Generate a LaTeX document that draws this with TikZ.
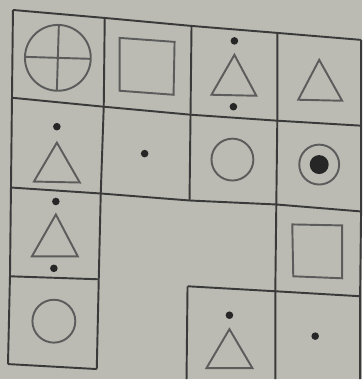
\documentclass[tikz,border=0pt]{standalone}
\usepackage{tikz}
\usepackage{xcolor}
\definecolor{PaperGray}{HTML}{BBBBB4}
\definecolor{GridInk}{HTML}{3A3A3A}
\definecolor{ShapeInk}{HTML}{5C5C5C}

\begin{document}
\begin{tikzpicture}[x=0.02cm, y=-0.02cm,
  gridline/.style={draw=GridInk,line width=1.1pt},
  figline/.style={draw=ShapeInk,line width=1.1pt},
  blob/.style={fill=black!85}]
\fill[PaperGray] (0,0) rectangle (363,380);
\coordinate (a0) at (13,10);  \coordinate (a1) at (105,18); \coordinate (a2) at (192,26);
\coordinate (a3) at (278,33); \coordinate (a4) at (362,40);
\coordinate (b0) at (12,98);  \coordinate (b1) at (104,107); \coordinate (b2) at (191,115);
\coordinate (b3) at (278,121); \coordinate (b4) at (362,126);
\coordinate (c0) at (11,188); \coordinate (c1) at (101,194); \coordinate (c2) at (190,201);
\coordinate (c3) at (277,205); \coordinate (c4) at (362,212);
\coordinate (d0) at (10,277); \coordinate (d1) at (99,280);
\coordinate (e0) at (8,365);  \coordinate (e1) at (97,370);
\coordinate (g2) at (188,287); \coordinate (f3) at (276,292); \coordinate (f4) at (361,297);
\coordinate (h2) at (187,380); \coordinate (h3) at (276,380); \coordinate (h4) at (361,380);
% grid
\draw[gridline] (a0) -- (a1) -- (a2) -- (a3) -- (a4);
\draw[gridline] (b0) -- (b1) -- (b2) -- (b3) -- (b4);
\draw[gridline] (c0) -- (c1) -- (c2) -- (c3) -- (c4);
\draw[gridline] (d0) -- (d1);
\draw[gridline] (e0) -- (e1);
\draw[gridline] (g2) -- (f3) -- (f4);
\draw[gridline] (a0) -- (b0) -- (c0) -- (d0) -- (e0);
\draw[gridline] (a1) -- (b1) -- (c1) -- (d1) -- (e1);
\draw[gridline] (a2) -- (b2) -- (c2);
\draw[gridline] (a3) -- (b3) -- (c3) -- (f3) -- (h3);
\draw[gridline] (a4) -- (b4) -- (c4) -- (f4) -- (h4);
\draw[gridline] (g2) -- (h2);
% row 1
\draw[figline] (58,58) circle (33);
\draw[figline] (25,57) -- (91,59);
\draw[figline] (59,25) -- (57,91);
\draw[figline] (120,38) -- (175,42) -- (174,95) -- (120,91) -- cycle;
\fill[blob] (235,41) circle (3.8);
\draw[figline] (235,55) -- (212,95) -- (257,96) -- cycle;
\fill[blob] (234,107) circle (3.8);
\draw[figline] (320,60) -- (299,100) -- (343,101) -- cycle;
% row 2
\fill[blob] (57,127) circle (3.8);
\draw[figline] (57,143) -- (34,182) -- (80,183) -- cycle;
\fill[blob] (145,154) circle (3.8);
\draw[figline] (233,160) circle (21);
\draw[figline] (320,165) circle (20);
\fill[blob] (320,165) circle (9.5);
% row 3
\fill[blob] (56,202) circle (3.8);
\draw[figline] (56,215) -- (32,257) -- (78,257) -- cycle;
\fill[blob] (54,269) circle (3.8);
\draw[figline] (293,225) -- (343,226) -- (343,279) -- (294,277) -- cycle;
% row 4
\draw[figline] (54,322) circle (21.5);
\fill[blob] (230,316) circle (3.8);
\draw[figline] (230,330) -- (207,369) -- (253,369) -- cycle;
\fill[blob] (316,337) circle (3.8);
\end{tikzpicture}
\end{document}
